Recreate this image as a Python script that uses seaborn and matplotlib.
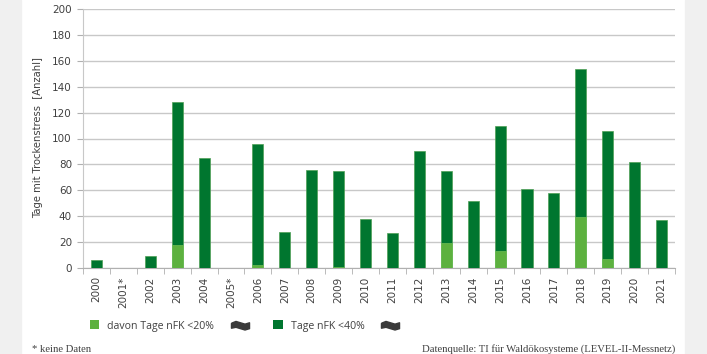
import numpy as np
import pandas as pd
import matplotlib
matplotlib.use('Agg')
import matplotlib.pyplot as plt
from matplotlib.patches import Patch, Rectangle
from matplotlib.lines import Line2D
from matplotlib.path import Path
import seaborn as sns

# Data (2001 and 2005: no data)
years = ['2000', '2001*', '2002', '2003', '2004', '2005*', '2006', '2007', '2008', '2009', '2010',
         '2011', '2012', '2013', '2014', '2015', '2016', '2017', '2018', '2019', '2020', '2021']
days_40 = [6, np.nan, 9, 128, 85, np.nan, 96, 28, 76, 75, 38,
           27, 90, 75, 52, 110, 61, 58, 154, 106, 82, 37]
days_20 = [0, np.nan, 0, 18, 0, np.nan, 2, 0, 0, 1, 0,
           0, 0, 19, 0, 13, 0, 0, 39, 7, 0, 0]

label_20 = 'davon Tage nFK <20%'
label_40 = 'Tage nFK <40%'
ylabel = 'Tage mit Trockenstress  [Anzahl]'
note = '* keine Daten'
source = 'Datenquelle: TI für Waldökosysteme (LEVEL-II-Messnetz)'

DARK = '#00762f'
LIGHT = '#5db13f'
GRID = '#c8c8c8'
TEXT = '#404040'

df = pd.DataFrame({'Jahr': years, 'nfk40': days_40, 'nfk20': days_20})

sns.set_style('white')
plt.rcParams['font.family'] = ['DejaVu Sans']

fig = plt.figure(figsize=(7.07, 3.54), dpi=100)
# grey side strips of the page
fig.patches.append(Rectangle((0, 0), 21 / 707, 1, transform=fig.transFigure, color='#f0f0f0', zorder=0))
fig.patches.append(Rectangle((685 / 707, 0), 22 / 707, 1, transform=fig.transFigure, color='#f0f0f0', zorder=0))

ax = fig.add_axes([83 / 707, 1 - 268 / 354, 592 / 707, 259 / 354])

sns.barplot(data=df, x='Jahr', y='nfk40', order=years, color=DARK, saturation=1,
            width=0.41, edgecolor='#4f9f55', linewidth=0.5, ax=ax, zorder=3)
sns.barplot(data=df, x='Jahr', y='nfk20', order=years, color=LIGHT, saturation=1,
            width=0.41, edgecolor='#6fbf55', linewidth=0.5, ax=ax, zorder=4)

ax.set_xlim(-0.5, len(years) - 0.5)
ax.set_ylim(0, 200)
ax.set_yticks(np.arange(0, 201, 20))
ax.set_xlabel('')
ax.set_ylabel('')
ax.yaxis.grid(True, color=GRID, linewidth=1)
ax.set_axisbelow(True)

for s in ['top', 'right']:
    ax.spines[s].set_visible(False)
ax.spines['left'].set_color(GRID)
ax.spines['bottom'].set_color('#b0b0b0')

# ticks between the categories on x
ax.set_xticks(np.arange(-0.5, len(years), 1), minor=True)
ax.tick_params(axis='x', which='major', length=0, pad=6, labelrotation=90, labelsize=7.5, labelcolor=TEXT)
ax.tick_params(axis='x', which='minor', length=4, color='#b0b0b0', direction='out', bottom=True)
ax.tick_params(axis='y', length=4, color='#b0b0b0', left=True, labelsize=7.5, labelcolor=TEXT, pad=4)

fig.text(38 / 707, 1 - 138 / 354, ylabel, rotation=90, ha='center', va='center', fontsize=7.2, color=TEXT)

# legend with the wavy placeholder symbols
wave = Path([(-1, 0.25), (-0.5, 0.45), (0, 0.3), (0.5, 0.15), (1, 0.3),
             (1, -0.35), (0.5, -0.5), (0, -0.35), (-0.5, -0.2), (-1, -0.3), (-1, 0.25)])
flag = Line2D([], [], marker=wave, markersize=13, color='#3a3a3a', linestyle='none')
handles = [Patch(facecolor=LIGHT, edgecolor='none'), flag, Patch(facecolor=DARK, edgecolor='none'), flag]
labels = [label_20, '', label_40, '']
fig.legend(handles, labels, loc='center left', bbox_to_anchor=(80 / 707, 1 - 326 / 354), ncol=4,
           frameon=False, handlelength=0.9, handleheight=0.9, handletextpad=0.75, columnspacing=2.0,
           prop={'family': 'Open Sans', 'size': 7.6}, labelcolor=TEXT)

fig.text(32 / 707, 1 - 349 / 354, note, ha='left', va='center', fontsize=7.7,
         family='Liberation Serif', color=TEXT)
fig.text(675 / 707, 1 - 349 / 354, source, ha='right', va='center', fontsize=7.7,
         family='Liberation Serif', color=TEXT)

fig.savefig('out.png', dpi=100)
